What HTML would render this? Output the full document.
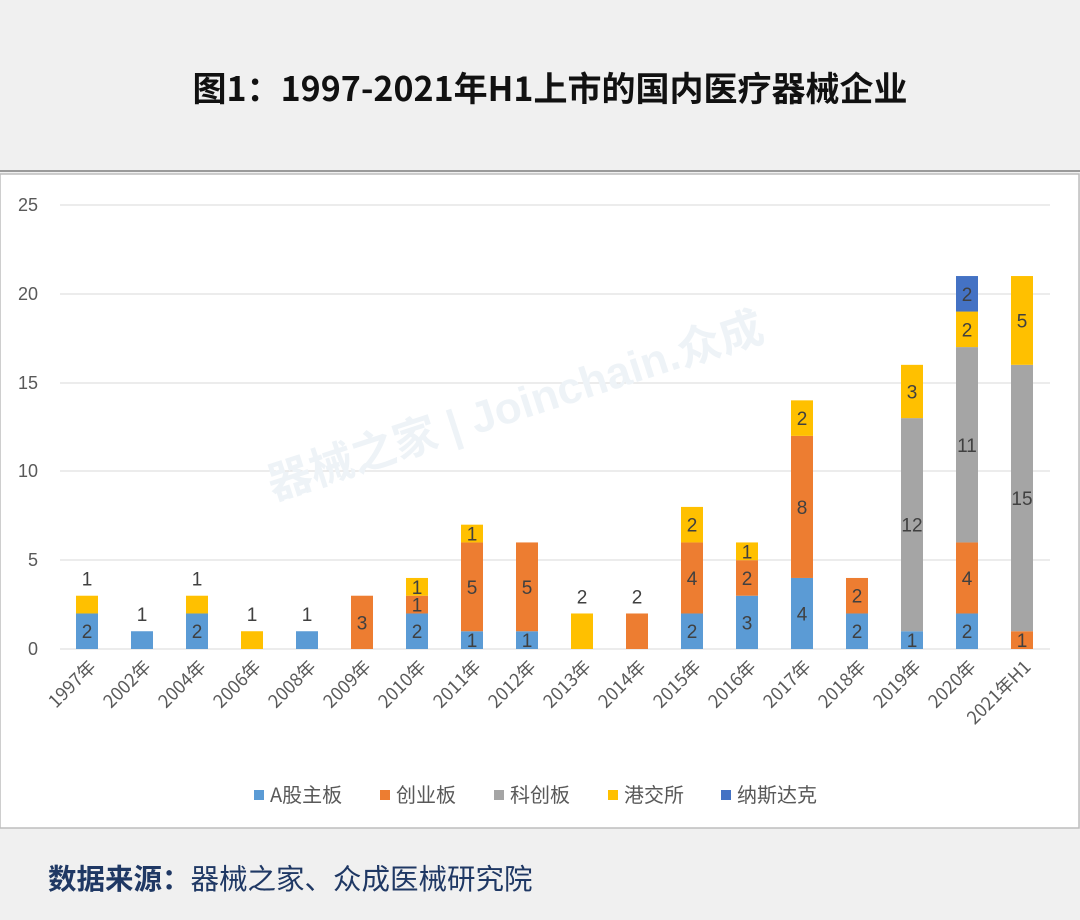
<!DOCTYPE html>
<html><head><meta charset="utf-8"><style>
body{margin:0;width:1080px;height:920px;background:#f0f0f0;overflow:hidden;font-family:"Liberation Sans","Noto Sans CJK SC",sans-serif}
</style></head><body>
<svg width="1080" height="920" xmlns="http://www.w3.org/2000/svg" style="position:absolute;left:0;top:0;font-family:'Liberation Sans','Noto Sans CJK SC',sans-serif">
<rect x="0" y="0" width="1080" height="920" fill="#f0f0f0"/>
<line x1="0" y1="171" x2="1080" y2="171" stroke="#9a9a9a" stroke-width="2"/>
<rect x="0" y="174" width="1079" height="654" fill="#fff" stroke="#bdbdbd" stroke-width="1.5"/>
<text x="550" y="101" text-anchor="middle" font-size="34" font-weight="bold" fill="#111" style="font-family:'Noto Sans CJK SC',sans-serif">图1：1997-2021年H1上市的国内医疗器械企业</text>
<g stroke="#d9d9d9" stroke-width="1">
<line x1="60" x2="1050" y1="205" y2="205"/><line x1="60" x2="1050" y1="294" y2="294"/><line x1="60" x2="1050" y1="383" y2="383"/><line x1="60" x2="1050" y1="471" y2="471"/><line x1="60" x2="1050" y1="560" y2="560"/><line x1="60" x2="1050" y1="649" y2="649"/>
</g>
<g font-size="18" fill="#595959" text-anchor="end">
<text x="38" y="211">25</text><text x="38" y="300">20</text><text x="38" y="389">15</text><text x="38" y="477">10</text><text x="38" y="566">5</text><text x="38" y="655">0</text>
</g>
<text x="520" y="420" font-size="44" font-weight="bold" fill="#eef3f7" transform="rotate(-18 520 420)" text-anchor="middle">器械之家 | Joinchain.众成</text>
<g id="bars"></g>
<g id="lbl" font-size="19" fill="#404040" text-anchor="middle"></g>
<g id="xl" font-size="18" fill="#595959" text-anchor="end" style="font-family:'Noto Sans CJK SC',sans-serif"></g>
<g font-size="20" fill="#595959" style="font-family:'Noto Sans CJK SC',sans-serif">
<rect x="254" y="790" width="10" height="10" fill="#5b9bd5"/><text x="270" y="802">A股主板</text>
<rect x="380" y="790" width="10" height="10" fill="#ed7d31"/><text x="396" y="802">创业板</text>
<rect x="494" y="790" width="10" height="10" fill="#a5a5a5"/><text x="510" y="802">科创板</text>
<rect x="608" y="790" width="10" height="10" fill="#ffc000"/><text x="624" y="802">港交所</text>
<rect x="721" y="790" width="10" height="10" fill="#4472c4"/><text x="737" y="802">纳斯达克</text>
</g>
<text x="48" y="889" font-size="28.5" fill="#1f3864" style="font-family:'Noto Sans CJK SC',sans-serif"><tspan font-weight="bold">数据来源：</tspan>器械之家、众成医械研究院</text>
</svg>
<script>
var cats=["1997年","2002年","2004年","2006年","2008年","2009年","2010年","2011年","2012年","2013年","2014年","2015年","2016年","2017年","2018年","2019年","2020年","2021年H1"];
var col={A:"#5b9bd5",C:"#ed7d31",K:"#a5a5a5",H:"#ffc000",N:"#4472c4"};
var d=[[["A",2,1],["H",1,0]],[["A",1,0]],[["A",2,1],["H",1,0]],[["H",1,0]],[["A",1,0]],[["C",3,1]],[["A",2,1],["C",1,1],["H",1,1]],[["A",1,1],["C",5,1],["H",1,1]],[["A",1,1],["C",5,1]],[["H",2,0]],[["C",2,0]],[["A",2,1],["C",4,1],["H",2,1]],[["A",3,1],["C",2,1],["H",1,1]],[["A",4,1],["C",8,1],["H",2,1]],[["A",2,1],["C",2,1]],[["A",1,1],["K",12,1],["H",3,1]],[["A",2,1],["C",4,1],["K",11,1],["H",2,1],["N",2,1]],[["C",1,1],["K",15,1],["H",5,1]]];
var ns="http://www.w3.org/2000/svg",B=document.getElementById("bars"),L=document.getElementById("lbl"),X=document.getElementById("xl");
function el(t,a,p,txt){var e=document.createElementNS(ns,t);for(var k in a)e.setAttribute(k,a[k]);if(txt!=null)e.textContent=txt;p.appendChild(e);}
var u=17.76;
d.forEach(function(s,i){var cx=87+55*i,y=649;s.forEach(function(g){var h=g[1]*u;y-=h;el("rect",{x:cx-11,y:y,width:22,height:h,fill:col[g[0]]},B);
var ty=g[2]?y+h/2+7:y-10;el("text",{x:cx,y:ty},L,g[1]);});
el("text",{x:cx+10,y:668,transform:"rotate(-45 "+(cx+10)+" 668)"},X,cats[i]);});
</script>
</body></html>
